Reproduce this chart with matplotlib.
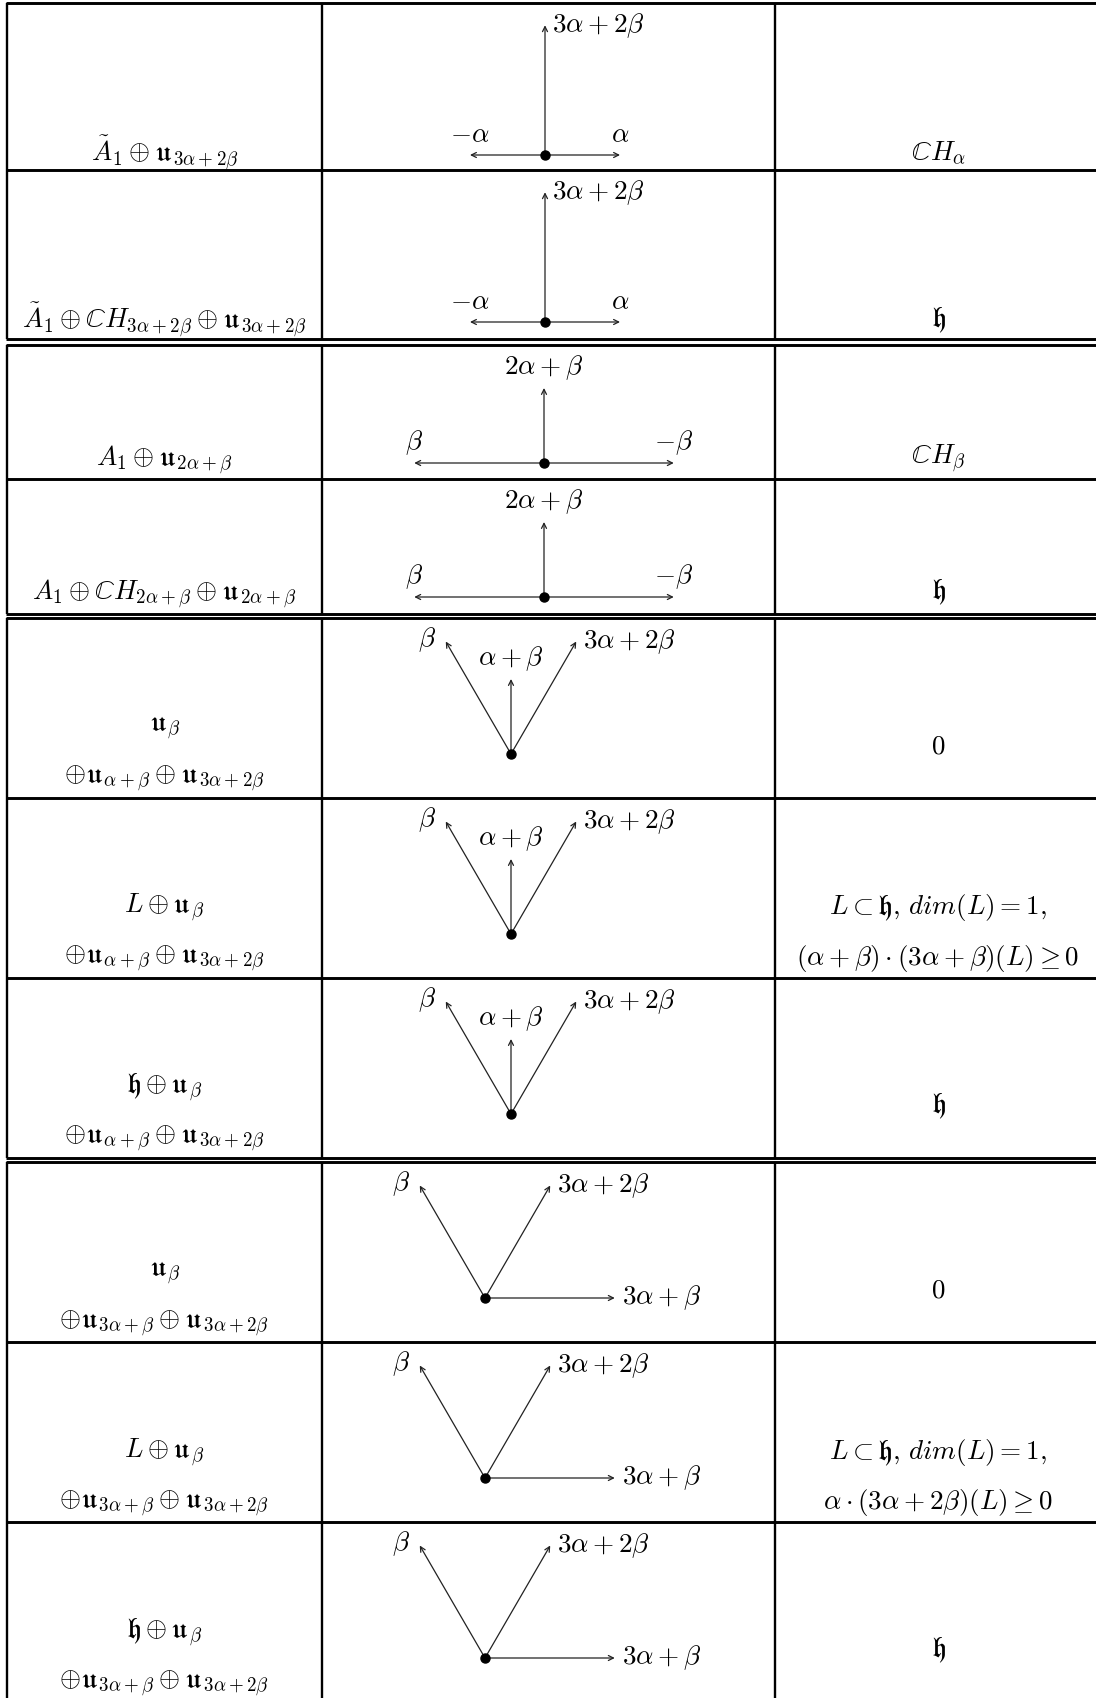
import numpy as np
import matplotlib
matplotlib.use("Agg")
import matplotlib.pyplot as plt

plt.rcParams['mathtext.fontset'] = 'cm'
plt.rcParams['font.family'] = ['DejaVu Serif']

# ---------------- data ----------------
# left column (subalgebra), right column (condition) per row
left_g1 = [r'$\tilde{A}_1 \oplus \mathfrak{u}_{3\alpha+2\beta}$',
           r'$\tilde{A}_1 \oplus \mathbb{C}H_{3\alpha+2\beta} \oplus \mathfrak{u}_{3\alpha+2\beta}$']
right_g1 = [r'$\mathbb{C}H_{\alpha}$', r'$\mathfrak{h}$']
left_g2 = [r'$A_1 \oplus \mathfrak{u}_{2\alpha+\beta}$',
           r'$A_1 \oplus \mathbb{C}H_{2\alpha+\beta} \oplus \mathfrak{u}_{2\alpha+\beta}$']
right_g2 = [r'$\mathbb{C}H_{\beta}$', r'$\mathfrak{h}$']
left_g3 = [[r'$\mathfrak{u}_{\beta}$', r'$\oplus\mathfrak{u}_{\alpha+\beta} \oplus \mathfrak{u}_{3\alpha+2\beta}$'],
           [r'$L \oplus \mathfrak{u}_{\beta}$', r'$\oplus\mathfrak{u}_{\alpha+\beta} \oplus \mathfrak{u}_{3\alpha+2\beta}$'],
           [r'$\mathfrak{h} \oplus \mathfrak{u}_{\beta}$', r'$\oplus\mathfrak{u}_{\alpha+\beta} \oplus \mathfrak{u}_{3\alpha+2\beta}$']]
right_g3 = [[r'$0$'],
            [r'$L \subset \mathfrak{h},\, dim(L) = 1,$', r'$(\alpha+\beta)\cdot(3\alpha+\beta)(L) \geq 0$'],
            [r'$\mathfrak{h}$']]
left_g4 = [[r'$\mathfrak{u}_{\beta}$', r'$\oplus\mathfrak{u}_{3\alpha+\beta} \oplus \mathfrak{u}_{3\alpha+2\beta}$'],
           [r'$L \oplus \mathfrak{u}_{\beta}$', r'$\oplus\mathfrak{u}_{3\alpha+\beta} \oplus \mathfrak{u}_{3\alpha+2\beta}$'],
           [r'$\mathfrak{h} \oplus \mathfrak{u}_{\beta}$', r'$\oplus\mathfrak{u}_{3\alpha+\beta} \oplus \mathfrak{u}_{3\alpha+2\beta}$']]
right_g4 = [[r'$0$'],
            [r'$L \subset \mathfrak{h},\, dim(L) = 1,$', r'$\alpha\cdot(3\alpha+2\beta)(L) \geq 0$'],
            [r'$\mathfrak{h}$']]

# root vectors drawn in each diagram (units of the short root length)
roots_g1 = [(0.0, 1.73), (-1.0, 0.0), (1.0, 0.0)]
labels_g1 = [r'$3\alpha+2\beta$', r'$-\alpha$', r'$\alpha$']
place_g1 = ['right', 'above', 'above']

roots_g2 = [(0.0, 1.0), (-1.73, 0.0), (1.73, 0.0)]
labels_g2 = [r'$2\alpha+\beta$', r'$\beta$', r'$-\beta$']
place_g2 = ['above', 'above', 'above']

roots_g3 = [(-0.87, 1.5), (0.0, 1.0), (0.87, 1.5)]
labels_g3 = [r'$\beta$', r'$\alpha+\beta$', r'$3\alpha+2\beta$']
place_g3 = ['left', 'above', 'right']

roots_g4 = [(-0.87, 1.5), (0.87, 1.5), (1.73, 0.0)]
labels_g4 = [r'$\beta$', r'$3\alpha+2\beta$', r'$3\alpha+\beta$']
place_g4 = ['left', 'right', 'right']

# ---------------- layout ----------------
W, H = 1096, 1698
FS = 19.5
UNIT = 75.0  # px per root-length unit
X_LEFT, X_C1, X_C2, X_RIGHT = 7, 322, 775, 1106
XC_LEFT, XC_RIGHT = 164.5, 938

fig = plt.figure(figsize=(W / 100, H / 100), dpi=100)
ax = fig.add_axes([0, 0, 1, 1])
ax.set_xlim(0, W)
ax.set_ylim(H, 0)
ax.axis('off')

groups = [
    dict(rows=[(3, 170), (170, 339)], left=left_g1, right=right_g1,
         roots=roots_g1, labels=labels_g1, place=place_g1,
         dot=(545, 152), ltxt=[150], rtxt=[150]),
    dict(rows=[(345, 479), (479, 614)], left=left_g2, right=right_g2,
         roots=roots_g2, labels=labels_g2, place=place_g2,
         dot=(544, 118), ltxt=[115], rtxt=[113]),
    dict(rows=[(618, 798), (798, 978), (978, 1158)], left=left_g3, right=right_g3,
         roots=roots_g3, labels=labels_g3, place=place_g3,
         dot=(511, 136), ltxt=[109, 160], rtxt=[128]),
    dict(rows=[(1162, 1342), (1342, 1522), (1522, 1702)], left=left_g4, right=right_g4,
         roots=roots_g4, labels=labels_g4, place=place_g4,
         dot=(485, 136), ltxt=[110, 161], rtxt=[128]),
]

LW_H = 2.1
LW_V = 1.7

offsets = {'above': (0, 15, 'center', 'center'),
           'right': (5, 0, 'left', 'center'),
           'left': (-7, 1.5, 'right', 'center')}


def draw_diagram(ox, oy, roots, labels, place):
    # inset axes with the origin at pixel (ox, oy), UNIT px per unit
    xr, yr = (-2.6, 2.6), (-0.4, 2.1)
    left = (ox + xr[0] * UNIT) / W
    bottom = (H - oy + yr[0] * UNIT) / H
    w = (xr[1] - xr[0]) * UNIT / W
    h = (yr[1] - yr[0]) * UNIT / H
    iax = fig.add_axes([left, bottom, w, h])
    iax.set_xlim(*xr)
    iax.set_ylim(*yr)
    iax.axis('off')
    iax.patch.set_alpha(0)
    for (vx, vy), lab, pl in zip(roots, labels, place):
        iax.annotate('', xy=(vx, vy), xytext=(0, 0),
                     arrowprops=dict(arrowstyle='->', lw=0.9, color='#222222',
                                     shrinkA=0, shrinkB=0, mutation_scale=9))
        dx, dy, ha, va = offsets[pl]
        iax.annotate(lab, xy=(vx, vy), xytext=(dx, dy), textcoords='offset points',
                     ha=ha, va=va, fontsize=FS)
    iax.plot([0], [0], 'o', color='black', markersize=6.5, zorder=5)


for g in groups:
    top = g['rows'][0][0]
    bot = g['rows'][-1][1]
    # vertical rules
    for x in (X_LEFT, X_C1, X_C2, X_RIGHT):
        ax.plot([x, x], [top, min(bot, H)], color='black', lw=LW_V, solid_capstyle='butt')
    # horizontal rules
    for (r0, r1) in g['rows']:
        ax.plot([X_LEFT - 1, X_RIGHT + 1], [r0, r0], color='black', lw=LW_H,
                solid_capstyle='butt')
    ax.plot([X_LEFT - 1, X_RIGHT + 1], [bot, bot], color='black', lw=LW_H,
            solid_capstyle='butt')
    for i, (r0, r1) in enumerate(g['rows']):
        lt = g['left'][i]
        rt = g['right'][i]
        if isinstance(lt, str):
            lt = [lt]
        if isinstance(rt, str):
            rt = [rt]
        for s, off in zip(lt, g['ltxt']):
            ax.text(XC_LEFT, r0 + off, s, ha='center', va='center', fontsize=FS)
        if len(rt) == 1:
            ax.text(XC_RIGHT, r0 + g['rtxt'][0], rt[0], ha='center', va='center', fontsize=FS)
        else:
            for s, off in zip(rt, g['ltxt']):
                ax.text(XC_RIGHT, r0 + off, s, ha='center', va='center', fontsize=FS)
        draw_diagram(g['dot'][0], r0 + g['dot'][1], g['roots'], g['labels'], g['place'])

fig.savefig('out.png', dpi=100)
